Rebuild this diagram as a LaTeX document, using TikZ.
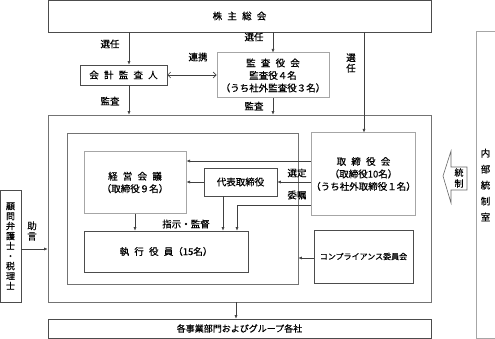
\documentclass[tikz,border=0pt]{standalone}
\usepackage{fontspec}
\setmainfont{Noto Sans CJK JP}[FakeBold=0.5]
\usetikzlibrary{arrows.meta, positioning}
\newcommand{\spazio}{\hspace{0.55em}}

\begin{document}
\begin{tikzpicture}[x=1pt, y=-1pt,
    box/.style={draw=black!70, line width=0.6pt, inner sep=0pt, align=center,
      font=\fontsize{9.5}{12.5}\selectfont},
    gbox/.style={box, draw=black!35, line width=1pt},
    freccia/.style={draw=black!75, line width=0.6pt, -{Latex[length=3.5pt,width=3pt]}},
    etic/.style={inner sep=0pt, align=center, font=\fontsize{9.5}{11}\selectfont}]
  \useasboundingbox (0,0) rectangle (495,339);

  % Riquadri esterni
  \node[box, draw=black!55, minimum width=383pt, minimum height=187pt] (esterno) at (239.5,208.5) {};
  \node[box, draw=black!55, minimum width=231pt, minimum height=151pt] (interno) at (182.5,208.5) {};

  % Organi
  \node[box, minimum width=383pt, minimum height=32pt] (azionisti) at (239.5,16)
    {株\spazio 主\spazio 総\spazio 会};
  \node[box, minimum width=87pt, minimum height=20pt] (revisore) at (123.5,75)
    {会\spazio 計\spazio 監\spazio 査\spazio 人};
  \node[gbox, minimum width=112pt, minimum height=45pt] (sindaci) at (273,75.5)
    {監\spazio 査\spazio 役\spazio 会\\監査役４名\\（うち社外監査役３名）};
  \node[gbox, minimum width=102pt, minimum height=61pt] (consiglio) at (135,182.5)
    {経\spazio 営\spazio 会\spazio 議\\（取締役９名）};
  \node[box, minimum width=73pt, minimum height=28pt] (presidente) at (240.5,182)
    {代表取締役};
  \node[gbox, minimum width=99pt, minimum height=82pt] (cda) at (363.5,174)
    {取\spazio 締\spazio 役\spazio 会\\（取締役10名）\\（うち社外取締役１名）};
  \node[box, minimum width=164pt, minimum height=41pt] (esecutivi) at (166,251.5)
    {執\spazio 行\spazio 役\spazio 員（15名）};
  \node[box, minimum width=99pt, minimum height=53pt, font=\fontsize{8}{10}\selectfont] (compliance) at (363.5,256.5)
    {コンプライアンス委員会};
  \node[box, minimum width=383pt, minimum height=19pt, font=\fontsize{9}{11}\selectfont] (gruppo) at (239.5,328.5)
    {各事業部門およびグループ各社};
  \node[box, minimum width=21pt, minimum height=112pt, font=\fontsize{9}{10}\selectfont] (consulenti) at (10.5,246)
    {顧\\問\\弁\\護\\士\\・\\税\\理\\士};
  \node[gbox, minimum width=19pt, minimum height=306pt, font=\fontsize{9.5}{16}\selectfont] (controllo) at (485.5,185)
    {内\\部\\統\\制\\室};

  % Freccia di controllo interno
  \draw[black!60, line width=0.6pt] (443,176) -- (451,151) -- (451,167) -- (467,167)
    -- (467,190) -- (451,190) -- (451,203) -- cycle;
  \node[etic, font=\fontsize{9}{11}\selectfont] (controllo-testo) at (459,178) {統\\制};

  % Collegamenti
  \draw[freccia] (azionisti.south -| 129,0) -- (revisore.north -| 129,0);
  \draw[freccia] (azionisti.south -| sindaci.north) -- (sindaci.north);
  \draw[freccia] (azionisti.south -| 364,0) -- (cda.north -| 364,0);
  \draw[draw=black!75, line width=0.6pt, {Straight Barb[length=3pt]}-{Straight Barb[length=3pt]}]
    (revisore.east) -- (sindaci.west |- revisore.east);
  \draw[freccia] (revisore.south -| 129,0) -- (esterno.north -| 129,0);
  \draw[freccia] (sindaci.south) -- (esterno.north -| sindaci.south);
  \draw[freccia] (cda.west |- 0,161) -- (consiglio.east |- 0,161);
  \draw[freccia] (presidente.west) -- (consiglio.east |- presidente.west);
  \draw[freccia] (cda.west |- presidente.east) -- (presidente.east);
  \draw[freccia] (cda.west |- 0,205) -| (237,0 |- esecutivi.north);
  \draw[freccia] (presidente.south -| 223,0) -- (esecutivi.north -| 223,0);
  \draw[freccia] (consiglio.south) -- (esecutivi.north -| consiglio.south);
  \draw[freccia] (compliance.west |- 0,258) -- (interno.east |- 0,258);
  \draw[freccia] (esterno.south -| 236,0) -- (gruppo.north -| 236,0);
  \draw[freccia] (consulenti.east |- 0,249) -- (esterno.west |- 0,249);

  % Etichette
  \node[etic] (l-sel1) at (110,44) {選任};
  \node[etic] (l-sel2) at (254,37) {選任};
  \node[etic, font=\fontsize{9.5}{10.5}\selectfont] (l-sel3) at (351,63) {選\\任};
  \node[etic] (l-coop) at (198,57) {連携};
  \node[etic] (l-rev1) at (110,101) {監査};
  \node[etic] (l-rev2) at (254,106) {監査};
  \node[etic] (l-nom) at (297,173) {選定};
  \node[etic] (l-del) at (297,195) {委嘱};
  \node[etic] (l-dir) at (186,224) {指示・監督};
  \node[etic, font=\fontsize{9.5}{10.5}\selectfont] (l-cons) at (32,231) {助\\言};
\end{tikzpicture}
\end{document}
